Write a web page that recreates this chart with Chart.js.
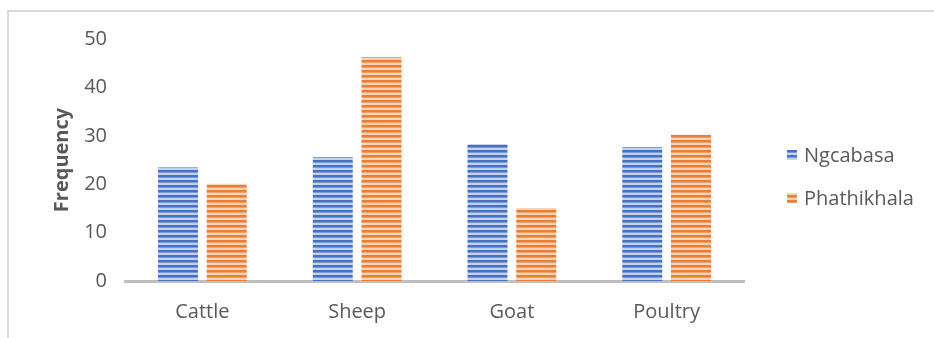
<!DOCTYPE html>
<html>
<head>
<meta charset="utf-8">
<script src="https://cdn.jsdelivr.net/npm/chart.js@4.4.0/dist/chart.umd.min.js"></script>
<style>
  html, body { margin: 0; padding: 0; background: #fff; }
  #wrap { position: relative; width: 934px; height: 338px; overflow: hidden; }
  #frame { position: absolute; left: 7px; top: 10px; width: 1000px; height: 400px;
           border-top: 2px solid #d9d9d9; border-left: 2px solid #d9d9d9; }
  #chart { position: absolute; left: 0; top: 0; }
</style>
</head>
<body>
<div id="wrap">
  <div id="frame"></div>
  <canvas id="chart" width="934" height="338"></canvas>
</div>
<script>
var categories = ['Cattle', 'Sheep', 'Goat', 'Poultry'];
var ngcabasa = [23.5, 25.6, 28.3, 27.7];
var phathikhala = [20.1, 46.3, 15.1, 30.2];
var seriesNames = ['Ngcabasa', 'Phathikhala'];

var textColor = '#595959';
var fontFamily = "'Open Sans', 'Liberation Sans', sans-serif";

// horizontal stripe fill, like the narrow-horizontal pattern fill
function stripes(dark, mid, light) {
  var c = document.createElement('canvas');
  c.width = 4; c.height = 5;
  var g = c.getContext('2d');
  g.fillStyle = dark; g.fillRect(0, 0, 4, 2);
  g.fillStyle = mid; g.fillRect(0, 2, 4, 1);
  g.fillStyle = light; g.fillRect(0, 3, 4, 2);
  return g.createPattern(c, 'repeat');
}

var ctx = document.getElementById('chart').getContext('2d');
var bluePattern = stripes('#4472c4', '#7b9ad6', '#c3d1ee');
var orangePattern = stripes('#ed7d31', '#f2a06a', '#f9d3b8');

// legend drawn on the right side, square key + label
var sideLegend = {
  id: 'sideLegend',
  afterDraw: function (chart) {
    var c = chart.ctx;
    var rows = [155, 198];
    c.save();
    c.font = '20px ' + fontFamily;
    c.textBaseline = 'middle';
    chart.data.datasets.forEach(function (ds, i) {
      c.fillStyle = ds.backgroundColor;
      c.fillRect(787, rows[i] - 5, 10, 10);
      c.fillStyle = textColor;
      c.fillText(ds.label, 804, rows[i] + 1);
    });
    c.restore();
  }
};

new Chart(ctx, {
  type: 'bar',
  data: {
    labels: categories,
    datasets: [
      { label: seriesNames[0], data: ngcabasa, backgroundColor: bluePattern },
      { label: seriesNames[1], data: phathikhala, backgroundColor: orangePattern }
    ]
  },
  options: {
    responsive: false,
    animation: false,
    datasets: { bar: { categoryPercentage: 0.63, barPercentage: 0.82 } },
    layout: { padding: { left: 0, right: 190, top: 39, bottom: 0 } },
    plugins: { legend: { display: false }, tooltip: { enabled: false } },
    scales: {
      x: {
        grid: { display: false, drawTicks: false },
        border: { display: true, color: '#bfbfbf', width: 3 },
        ticks: { color: textColor, font: { size: 20, family: fontFamily }, padding: 19 },
        afterFit: function (s) { s.height = 57; }
      },
      y: {
        min: 0, max: 50,
        grid: { display: false, drawTicks: false },
        border: { display: false },
        ticks: { stepSize: 10, color: textColor, font: { size: 20, family: fontFamily }, padding: 18 },
        title: {
          display: true, text: 'Frequency', color: textColor,
          font: { size: 20, weight: 'bold', family: fontFamily },
          padding: { top: 50, bottom: 0 }
        },
        afterFit: function (s) { s.width = 125; }
      }
    }
  },
  plugins: [sideLegend]
});
</script>
</body>
</html>
